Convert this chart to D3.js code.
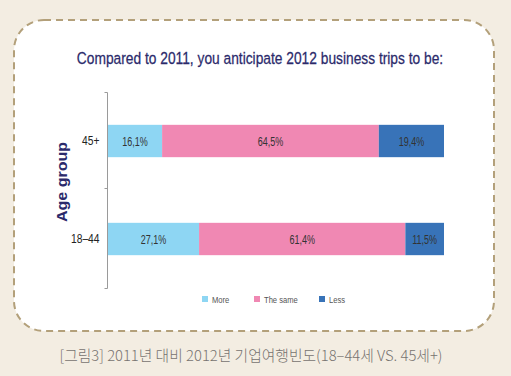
<!DOCTYPE html>
<html>
<head>
<meta charset="utf-8">
<script src="https://cdn.jsdelivr.net/npm/d3@7"></script>
<style>
  body { margin: 0; background: #f3ede2; }
  svg { display: block; }
</style>
</head>
<body>
<div id="main"></div>
<script>
const ctx = {
    WIDTH: 511,
    HEIGHT: 376,
};

// data
const groups = ["45+", "18\u201344"];
const seriesNames = ["More", "The same", "Less"];
const seriesColors = ["#8ed6f3", "#f088b3", "#3873b8"];
const moreVals = [16.1, 27.1];
const sameVals = [64.5, 61.4];
const lessVals = [19.4, 11.5];

const titleText = "Compared to 2011, you anticipate 2012 business trips to be:";
const yTitle = "Age group";
const captionText = "[그림3] 2011년 대비 2012년 기업여행빈도(18\u201344세 VS. 45세+)";

const FONT = "'Liberation Sans', Arial, sans-serif";

// squeeze text horizontally, the original uses a condensed face
function narrow(sel, f){
    sel.each(function(){
        let w = this.getComputedTextLength();
        d3.select(this).attr("textLength", w * f).attr("lengthAdjust", "spacingAndGlyphs");
    });
}

function createViz(){
    let svg = d3.select("#main").append("svg")
        .attr("width", ctx.WIDTH)
        .attr("height", ctx.HEIGHT);

    svg.append("rect").attr("width", ctx.WIDTH).attr("height", ctx.HEIGHT).attr("fill", "#f3ede2");

    // dashed rounded panel
    svg.append("rect")
        .attr("x", 14).attr("y", 20)
        .attr("width", 480).attr("height", 311)
        .attr("rx", 30).attr("ry", 30)
        .attr("fill", "#fff")
        .attr("stroke", "#b3a07a")
        .attr("stroke-width", 2)
        .attr("stroke-dasharray", "7,5");

    // title, squeezed with a transform so it keeps the narrow look
    svg.append("text")
        .attr("transform", "translate(260,64) scale(0.835,1)")
        .attr("text-anchor", "middle")
        .attr("font-family", FONT)
        .attr("font-size", 16.5)
        .attr("fill", "#2b2a6b")
        .attr("stroke", "#2b2a6b").attr("stroke-width", 0.25)
        .text(titleText);

    let rows = groups.map((g, i) => ({group: g, vals: [moreVals[i], sameVals[i], lessVals[i]]}));

    let x = d3.scaleLinear().domain([0, 100]).range([108, 444]);
    let y = d3.scaleBand().domain(groups).range([92, 288]).paddingInner(0.67).paddingOuter(0.335);

    // y axis
    let yAxis = d3.axisLeft(y).tickSize(0).tickPadding(8);
    let gy = svg.append("g").attr("transform", "translate(107.5,0)").call(yAxis);
    gy.select(".domain").attr("stroke", "#9a9a9a").attr("d", "M-3,92.5H0V288.5H-3");
    gy.selectAll("text")
        .attr("font-family", FONT)
        .attr("font-size", 12.5).attr("fill", "#222")
        .call(narrow, 0.82);
    gy.append("line").attr("x1", -3).attr("x2", 0).attr("y1", 188.5).attr("y2", 188.5).attr("stroke", "#9a9a9a");

    svg.append("text")
        .attr("transform", "translate(67,182) rotate(-90)")
        .attr("text-anchor", "middle")
        .attr("font-family", FONT)
        .attr("font-weight", "bold")
        .attr("font-size", 15)
        .attr("fill", "#2b2a6b")
        .attr("textLength", 80).attr("lengthAdjust", "spacingAndGlyphs")
        .text(yTitle);

    let barG = svg.append("g");
    rows.forEach(r => {
        let acc = 0;
        r.vals.forEach((v, j) => {
            let x0 = x(acc), x1 = x(acc + v);
            barG.append("rect")
                .attr("x", x0).attr("y", y(r.group))
                .attr("width", x1 - x0).attr("height", y.bandwidth())
                .attr("fill", seriesColors[j]);
            barG.append("text")
                .attr("x", (x0 + x1) / 2).attr("y", y(r.group) + y.bandwidth() / 2 + 4.5)
                .attr("text-anchor", "middle")
                .attr("font-family", FONT)
                .attr("font-size", 12.5).attr("fill", "#333")
                .text(v.toFixed(1).replace(".", ",") + "%")
                .call(narrow, 0.72);
            acc += v;
        });
    });

    // legend
    let legX = [202, 254, 319];
    let leg = svg.append("g");
    seriesNames.forEach((s, i) => {
        leg.append("rect").attr("x", legX[i]).attr("y", 296).attr("width", 6).attr("height", 6).attr("fill", seriesColors[i]);
        leg.append("text").attr("x", legX[i] + 10).attr("y", 302.5)
            .attr("font-family", FONT)
            .attr("font-size", 9.5).attr("fill", "#555").text(s)
            .call(narrow, 0.8);
    });

    svg.append("text")
        .attr("x", 251).attr("y", 361)
        .attr("text-anchor", "middle")
        .attr("font-family", "'Noto Sans CJK KR', sans-serif")
        .attr("font-weight", 300)
        .attr("font-size", 15)
        .attr("fill", "#777370")
        .attr("textLength", 383).attr("lengthAdjust", "spacingAndGlyphs")
        .text(captionText);
}

createViz();
</script>
</body>
</html>
